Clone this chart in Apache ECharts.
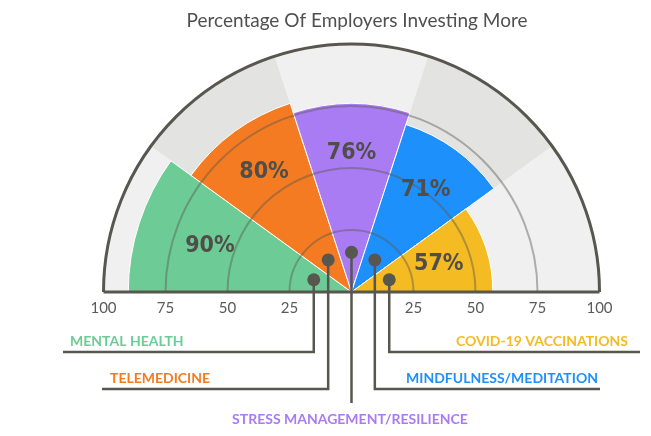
<!DOCTYPE html>
<html><head><meta charset="utf-8">
<script src="https://cdn.jsdelivr.net/npm/echarts@6/dist/echarts.min.js"></script>
<style>html,body{margin:0;padding:0;background:#fff}#c{width:651px;height:436px}</style>
</head><body><div id="c"></div>
<script>
const categories = ['MENTAL HEALTH','TELEMEDICINE','STRESS MANAGEMENT/RESILIENCE','MINDFULNESS/MEDITATION','COVID-19 VACCINATIONS'];
const values = [90, 80, 76, 71, 57];
const tickValues = [25, 50, 75, 100];
const colors = ['#6dcc95','#f47b21','#a97cf4','#1e90fb','#f5bb22'];
const bgColors = ['#f0f0f0','#e3e3e2','#f0f0f0','#e3e3e2','#f0f0f0'];
// leader layout: [turn y, end x, label x, label y, align]
const leaders = [
  [352, 63, 70, 341, 'left'],
  [389, 102, 110, 378, 'left'],
  [403, null, 350, 419, 'center'],
  [389, 600, 598, 378, 'right'],
  [352, 640, 628, 341, 'right']
];
const dark = '#57564f';
const chart = echarts.init(document.getElementById('c'));
const angleCats = categories.concat(['','','','','']);
chart.setOption({
  animation:false,
  title:{text:'Percentage Of Employers Investing More',left:352,top:6,textAlign:'center',
    textStyle:{fontFamily:'Lato',fontWeight:'normal',fontSize:19,color:'#505050'}},
  polar:{center:[351.5,292],radius:248},
  angleAxis:{type:'category',data:angleCats,startAngle:180,clockwise:true,show:false},
  radiusAxis:{type:'value',min:0,max:100,show:false},
  series:[
    {type:'bar',coordinateSystem:'polar',data:bgColors.map((c,i)=>({value:100,itemStyle:{color:c}})),
      barCategoryGap:'0%',barGap:'-100%',silent:true},
    {type:'bar',coordinateSystem:'polar',data:values.map((v,i)=>({value:v,itemStyle:{color:colors[i],borderColor:'#fff',borderWidth:1}})),
      barCategoryGap:'0%',barGap:'-100%',z:3},
    {type:'custom',coordinateSystem:'polar',data:[[0,0]],z:10,
      renderItem:function(params,api){
        const cs=params.coordSys; const cx=cs.cx, cy=cs.cy;
        const rp=v=>{const p=api.coord([v,0]);return Math.hypot(p[0]-cx,p[1]-cy);};
        const ch=[];
        tickValues.forEach(t=>{
          const r=rp(t);
          ch.push({type:'arc',shape:{cx,cy,r,startAngle:Math.PI,endAngle:2*Math.PI},
            style:{fill:null,stroke:t===100?dark:'rgba(90,88,80,0.45)',lineWidth:t===100?3:2}});
          [-1,1].forEach(s=>ch.push({type:'text',style:{text:String(t),x:cx+s*r,y:308,align:'center',verticalAlign:'middle',
            font:'15px Lato',fill:'#5a5a5a'}}));
        });
        const R=rp(100);
        ch.push({type:'line',shape:{x1:cx-R,y1:cy,x2:cx+R,y2:cy},style:{stroke:dark,lineWidth:3}});
        values.forEach((v,i)=>{
          const lr=Math.min(60,v-20);
          const lp=api.coord([lr,i]);
          ch.push({type:'text',style:{text:v+'%',x:lp[0],y:lp[1],align:'center',verticalAlign:'middle',
            font:'bold 23px "DejaVu Sans Condensed"',fill:'#4f4e48'}});
          const d=api.coord([16,i]);
          const L=leaders[i];
          const pts=[[d[0],d[1]],[d[0],L[0]]];
          if(L[1]!==null) pts.push([L[1],L[0]]);
          ch.push({type:'polyline',shape:{points:pts},style:{fill:null,stroke:dark,lineWidth:2.5}});
          ch.push({type:'circle',shape:{cx:d[0],cy:d[1],r:6.5},style:{fill:dark}});
          ch.push({type:'text',style:{text:categories[i],x:L[2],y:L[3],align:L[4],verticalAlign:'middle',
            font:'bold 14px Lato',fill:colors[i]}});
        });
        return {type:'group',children:ch};
      }}
  ]
});
</script></body></html>
